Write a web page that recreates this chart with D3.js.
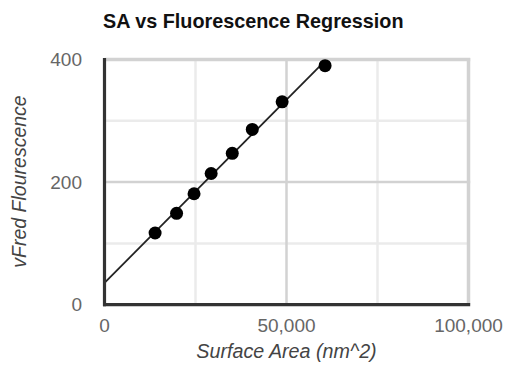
<!DOCTYPE html>
<html>
<head>
<meta charset="utf-8">
<script src="https://cdn.jsdelivr.net/npm/d3@7"></script>
<style>
  html, body { margin: 0; padding: 0; background: #fff; }
  svg { display: block; font-family: Arial, "Liberation Sans", sans-serif; }
</style>
</head>
<body>
<svg id="chart" width="506" height="375"></svg>
<script>
// ---- data ----
const surfaceArea = [13900, 19800, 24600, 29300, 35100, 40600, 48800, 60600];
const fluorescence = [117, 149, 181, 214, 247, 286, 331, 390];
const xTicks = [0, 50000, 100000];
const xMinorTicks = [25000, 75000];
const yTicks = [0, 200, 400];
const yMinorTicks = [100, 300];

const chartTitle = "SA vs Fluorescence Regression";
const xTitle = "Surface Area (nm^2)";
const yTitle = "vFred Flourescence";

// ---- layout ----
const svg = d3.select("#chart");
const pLeft = 104.5, pRight = 468.5, pTop = 59.5, pBottom = 304.7;

const x = d3.scaleLinear().domain([0, 100000]).range([pLeft, pRight]);
const y = d3.scaleLinear().domain([0, 400]).range([pBottom, pTop]);

// linear regression (trendline)
const n = surfaceArea.length;
const mx = d3.mean(surfaceArea), my = d3.mean(fluorescence);
let sxy = 0, sxx = 0;
for (let i = 0; i < n; i++) {
  sxy += (surfaceArea[i] - mx) * (fluorescence[i] - my);
  sxx += (surfaceArea[i] - mx) ** 2;
}
const slope = sxy / sxx;
const intercept = my - slope * mx;

// minor gridlines
const g = svg.append("g");
g.selectAll(".xminor").data(xMinorTicks).join("line")
  .attr("x1", d => x(d)).attr("x2", d => x(d))
  .attr("y1", pTop).attr("y2", pBottom)
  .attr("stroke", "#ebebeb").attr("stroke-width", 2.5);
g.selectAll(".yminor").data(yMinorTicks).join("line")
  .attr("y1", d => y(d)).attr("y2", d => y(d))
  .attr("x1", pLeft).attr("x2", pRight)
  .attr("stroke", "#ebebeb").attr("stroke-width", 2.5);

// major gridlines
g.selectAll(".xmajor").data(xTicks.filter(d => d > 0)).join("line")
  .attr("x1", d => x(d)).attr("x2", d => x(d))
  .attr("y1", pTop - 1.5).attr("y2", pBottom)
  .attr("stroke", "#d2d2d2").attr("stroke-width", d => d === 100000 ? 3.5 : 2.5);
g.selectAll(".ymajor").data(yTicks.filter(d => d > 0)).join("line")
  .attr("y1", d => y(d)).attr("y2", d => y(d))
  .attr("x1", pLeft).attr("x2", pRight + 1.7)
  .attr("stroke", "#d2d2d2").attr("stroke-width", d => d === 400 ? 3.5 : 2.5);

// trendline
const tx0 = 0, tx1 = d3.max(surfaceArea);
svg.append("line")
  .attr("x1", x(tx0)).attr("y1", y(intercept + slope * tx0))
  .attr("x2", x(tx1)).attr("y2", y(intercept + slope * tx1))
  .attr("stroke", "#222").attr("stroke-width", 1.8);

// axis lines
svg.append("line").attr("x1", pLeft).attr("x2", pLeft).attr("y1", pTop - 1.5).attr("y2", pBottom + 1.5)
  .attr("stroke", "#333").attr("stroke-width", 3.2);
svg.append("line").attr("x1", pLeft - 1.5).attr("x2", pRight + 1.7).attr("y1", pBottom).attr("y2", pBottom)
  .attr("stroke", "#333").attr("stroke-width", 3.2);

// points
svg.selectAll(".pt").data(surfaceArea).join("circle")
  .attr("cx", d => x(d))
  .attr("cy", (d, i) => y(fluorescence[i]))
  .attr("r", 6.5)
  .attr("fill", "#000");

// tick labels
const fmt = d3.format(",");
svg.selectAll(".xlab").data(xTicks).join("text")
  .attr("x", d => x(d)).attr("y", 331.5)
  .attr("text-anchor", "middle")
  .attr("font-size", "19px").attr("fill", "#666")
  .text(d => fmt(d));
svg.selectAll(".ylab").data(yTicks).join("text")
  .attr("x", 82).attr("y", d => y(d) + 6.7)
  .attr("text-anchor", "end")
  .attr("font-size", "19px").attr("fill", "#666")
  .text(d => fmt(d));

// titles
svg.append("text").attr("x", 103).attr("y", 27.5)
  .attr("font-size", "19.8px").attr("font-weight", "bold").attr("fill", "#111")
  .text(chartTitle);
svg.append("text").attr("x", (pLeft + pRight) / 2).attr("y", 358.3)
  .attr("text-anchor", "middle").attr("font-size", "19.7px").attr("font-style", "italic")
  .attr("fill", "#444").text(xTitle);
svg.append("text")
  .attr("transform", "translate(25.5," + 181.5 + ") rotate(-90)")
  .attr("text-anchor", "middle").attr("font-size", "19.5px").attr("font-style", "italic")
  .attr("fill", "#444").text(yTitle);
</script>
</body>
</html>
